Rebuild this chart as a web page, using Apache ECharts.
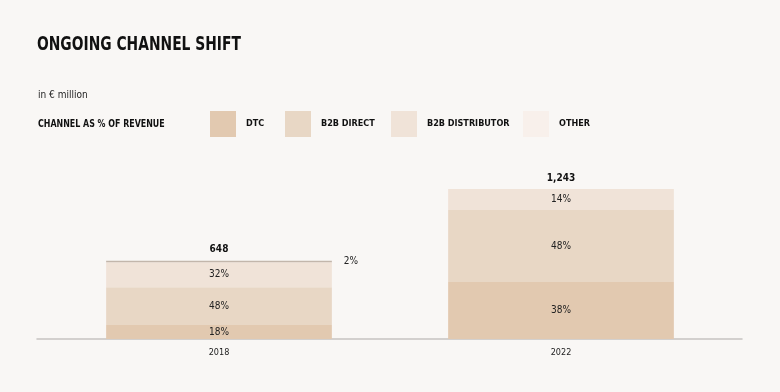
<!DOCTYPE html>
<html><head><meta charset="utf-8">
<script src="https://cdn.jsdelivr.net/npm/echarts@6/dist/echarts.min.js"></script>
<style>html,body{margin:0;padding:0;background:#f9f7f5}#c{width:780px;height:392px}</style>
</head><body><div id="c"></div>
<script>
const years = ['2018', '2022'];
const totals = [648, 1243];
const dtcPct = [18, 38];
const b2bDirectPct = [48, 48];
const b2bDistributorPct = [32, 14];
const otherPct = [2, 0];
const seriesNames = ['DTC', 'B2B DIRECT', 'B2B DISTRIBUTOR', 'OTHER'];
const colors = ['#e2c9b0', '#e8d7c5', '#f0e3d8', '#f8f0eb'];

const cond = '"DejaVu Sans Condensed", sans-serif';
const pctSets = [dtcPct, b2bDirectPct, b2bDistributorPct, otherPct];

const series = pctSets.map((pcts, i) => ({
  name: seriesNames[i],
  type: 'bar',
  stack: 'total',
  xAxisIndex: 0, yAxisIndex: 0,
  barWidth: '66%',
  itemStyle: { color: colors[i] },
  data: pcts.map((p, j) => {
    const d = { value: totals[j] * p / 100 };
    if (i === 3 && p > 0) {
      d.itemStyle = { color: '#c2b6ab' };
      d.label = { show: true, position: 'right', distance: 12, formatter: p + '%', color: '#222', fontSize: 10, fontFamily: cond };
    }
    return d;
  }),
  label: i < 3 ? {
    show: true, position: 'inside', color: '#222', fontSize: 10,
    fontFamily: cond,
    formatter: (p) => pcts[p.dataIndex] + '%'
  } : { show: false }
}));

series.push({
  name: 'total', type: 'bar', stack: 'total', barWidth: '66%',
  data: totals.map(() => 0),
  label: {
    show: true, position: 'top', distance: 6, color: '#111', fontSize: 10, fontWeight: 'bold',
    fontFamily: cond,
    formatter: (p) => totals[p.dataIndex].toLocaleString('en-US')
  }
});

const legendLefts = [210, 285, 391, 523];
const legends = seriesNames.map((n, i) => ({
  data: [n], left: legendLefts[i], top: 111, padding: 0, itemWidth: 26, itemHeight: 26, icon: 'rect',
  itemGap: 0, selectedMode: false,
  textStyle: { fontFamily: cond, fontWeight: 'bold', fontSize: 9, color: '#111', padding: [0, 0, 0, 5] }
}));

const chart = echarts.init(document.getElementById('c'));
chart.setOption({
  backgroundColor: '#f9f7f5',
  animation: false,
  title: [
    { text: 'in € million', left: 33, top: 85, textStyle: { fontFamily: cond, fontWeight: 'normal', fontSize: 10, color: '#222' } }
  ],
  graphic: [
    { type: 'text', x: 37, y: 35, scaleX: 0.77, style: { text: 'ONGOING CHANNEL SHIFT', fill: '#111', font: 'bold 20px "DejaVu Sans Condensed", sans-serif', textVerticalAlign: 'top' } },
    { type: 'text', x: 38, y: 119, scaleX: 0.88, style: { text: 'CHANNEL AS % OF REVENUE', fill: '#111', font: 'bold 10px "DejaVu Sans Condensed", sans-serif', textVerticalAlign: 'top' } }
  ],
  legend: legends,
  grid: [
    { left: 48, right: 48, top: 170, bottom: 53 },
    { left: 37, right: 38, top: 170, bottom: 53 }
  ],
  xAxis: [
    { type: 'category', gridIndex: 0, data: years, axisLine: { show: false }, axisTick: { show: false },
      axisLabel: { margin: 9, fontSize: 9, color: '#222', fontFamily: cond } },
    { type: 'value', gridIndex: 1, min: 0, max: 1, axisLine: { show: true, lineStyle: { color: '#c6c4c1', width: 1.5 } },
      axisTick: { show: false }, axisLabel: { show: false }, splitLine: { show: false } }
  ],
  yAxis: [
    { type: 'value', gridIndex: 0, min: 0, max: 1400, show: false, splitLine: { show: false } },
    { type: 'value', gridIndex: 1, show: false, splitLine: { show: false } }
  ],
  series: series
});
</script></body></html>
